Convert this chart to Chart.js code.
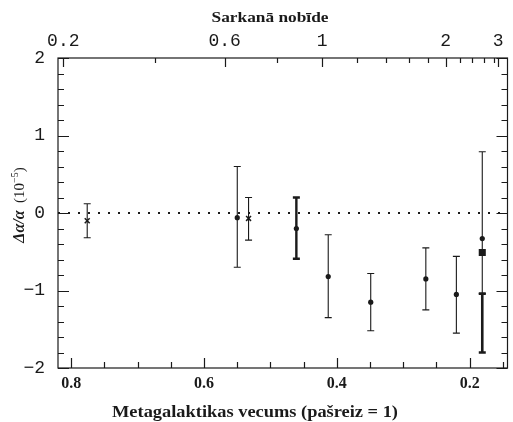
<!DOCTYPE html>
<html>
<head>
<meta charset="utf-8">
<script src="https://cdn.jsdelivr.net/npm/chart.js@4"></script>
<style>
  body { margin: 0; background: #fff; }
  canvas { display: block; }
</style>
</head>
<body>
<canvas id="chart" width="513" height="422"></canvas>
<script>
// Bottom axis: age of the universe (now = 1), reversed
const ageMin = 0.143;
const ageMax = 0.82;
const ageTicks = [0.8, 0.6, 0.4, 0.2];
const ageMinorStep = 0.05;

// Top axis: redshift ticks and where they fall on the age axis
const zTicks = [0.2, 0.4, 0.6, 0.8, 1, 1.2, 1.4, 1.6, 1.8, 2, 2.2, 2.4, 2.6, 2.8, 3];
const zTickAges = [0.812, 0.674, 0.569, 0.490, 0.422, 0.370, 0.326, 0.292, 0.262, 0.236, 0.215, 0.197, 0.179, 0.163, 0.157];
const zLabels = ["0.2", "0.6", "1", "2", "3"];

// Y axis
const yTicks = [-2, -1, 0, 1, 2];
const yMinorStep = 0.2;

// Dots with thin error bars
const dotAges = [0.550, 0.413, 0.349, 0.266, 0.220, 0.181];
const dotValues = [-0.06, -0.82, -1.15, -0.85, -1.05, -0.33];
const dotLow = [-0.70, -1.35, -1.52, -1.25, -1.55, -1.04];
const dotHigh = [0.60, -0.28, -0.78, -0.45, -0.56, 0.79];

// Dot with thick error bar
const thickAges = [0.461];
const thickValues = [-0.20];
const thickLow = [-0.59];
const thickHigh = [0.20];

// Crosses
const crossAges = [0.776, 0.533];
const crossValues = [-0.10, -0.07];
const crossLow = [-0.32, -0.35];
const crossHigh = [0.12, 0.20];

// Square
const squareAges = [0.181];
const squareValues = [-0.51];

// Thick lower segment at the highest redshift
const segAges = [0.181];
const segValues = [-1.04];
const segLow = [-1.80];
const segHigh = [-1.04];

const ink = "#1a1a1a";

function pts(xs, ys) {
  return xs.map((x, i) => ({ x: x, y: ys[i] }));
}

// wide serif look: draw text stretched to a given width
function wideText(ctx, text, cx, y, font, width) {
  ctx.font = font;
  const w = ctx.measureText(text).width;
  const sx = width / w;
  ctx.save();
  ctx.translate(cx, y);
  ctx.scale(sx, 1);
  ctx.textAlign = "center";
  ctx.fillText(text, 0, 0);
  ctx.restore();
}

// draws vertical error bars with caps
const errorBars = {
  id: "errorBars",
  beforeDatasetsDraw(chart) {
    const { ctx, scales } = chart;
    chart.data.datasets.forEach(ds => {
      if (!ds.errLow) return;
      ctx.save();
      ctx.strokeStyle = ink;
      ctx.lineWidth = ds.barWidth;
      ds.data.forEach((p, i) => {
        const px = scales.x.getPixelForValue(p.x);
        const top = scales.y.getPixelForValue(ds.errHigh[i]);
        const bot = scales.y.getPixelForValue(ds.errLow[i]);
        ctx.beginPath();
        ctx.moveTo(px, top); ctx.lineTo(px, bot);
        ctx.moveTo(px - 3.5, top); ctx.lineTo(px + 3.5, top);
        ctx.moveTo(px - 3.5, bot); ctx.lineTo(px + 3.5, bot);
        ctx.stroke();
      });
      ctx.restore();
    });
  }
};

// frame, inward ticks, axis titles
const frameTicks = {
  id: "frameTicks",
  afterDraw(chart) {
    const { ctx, chartArea: a, scales } = chart;
    ctx.save();
    ctx.strokeStyle = ink;
    ctx.lineWidth = 1.2;
    ctx.strokeRect(a.left, a.top, a.right - a.left, a.bottom - a.top);

    ctx.beginPath();
    // y ticks, both sides
    for (let v = -2; v <= 2.0001; v += yMinorStep) {
      const py = Math.round(scales.y.getPixelForValue(v)) + 0.5;
      const major = Math.abs(v - Math.round(v)) < 1e-6;
      const len = major ? 11 : 6;
      ctx.moveTo(a.left, py); ctx.lineTo(a.left + len, py);
      ctx.moveTo(a.right, py); ctx.lineTo(a.right - len, py);
    }
    // bottom ticks
    for (let v = 0.15; v <= ageMax; v += ageMinorStep) {
      const px = Math.round(scales.x.getPixelForValue(v)) + 0.5;
      const major = ageTicks.some(t => Math.abs(t - v) < 1e-6);
      ctx.moveTo(px, a.bottom); ctx.lineTo(px, a.bottom - (major ? 10 : 6));
    }
    // top ticks (redshift)
    zTicks.forEach((z, i) => {
      const px = Math.round(scales.x.getPixelForValue(zTickAges[i])) + 0.5;
      const major = zLabels.includes(String(z));
      ctx.moveTo(px, a.top); ctx.lineTo(px, a.top + (major ? 9 : 5));
    });
    ctx.stroke();

    // axis titles
    ctx.fillStyle = ink;
    ctx.textBaseline = "alphabetic";
    wideText(ctx, "Sarkanā nobīde", 270, 22, "bold 14px 'Liberation Serif'", 117);
    wideText(ctx, "Metagalaktikas vecums (pašreiz = 1)", 255, 417, "bold 16px 'Liberation Serif'", 286);

    // y title, rotated
    ctx.translate(24, 205);
    ctx.rotate(-Math.PI / 2);
    ctx.textAlign = "left";
    const f1 = "italic bold 16px 'Liberation Serif'";
    const f2 = "15px 'Liberation Serif'";
    const f3 = "10px 'Liberation Serif'";
    ctx.font = f1; const w1 = ctx.measureText("Δα/α").width;
    ctx.font = f2; const w2 = ctx.measureText("  (10").width;
    ctx.font = f3; const w3 = ctx.measureText("−5").width;
    ctx.font = f2; const w4 = ctx.measureText(")").width;
    let x0 = -(w1 + w2 + w3 + w4) / 2;
    ctx.font = f1; ctx.fillText("Δα/α", x0, 0); x0 += w1;
    ctx.font = f2; ctx.fillText("  (10", x0, 0); x0 += w2;
    ctx.font = f3; ctx.fillText("−5", x0, -6); x0 += w3;
    ctx.font = f2; ctx.fillText(")", x0, 0);
    ctx.restore();
  }
};

new Chart(document.getElementById("chart"), {
  type: "scatter",
  data: {
    datasets: [
      {
        type: "line",
        data: [{ x: ageMax, y: 0 }, { x: ageMin, y: 0 }],
        borderColor: ink,
        borderWidth: 2.2,
        borderDash: [2, 8],
        pointRadius: 0,
        fill: false
      },
      {
        data: pts(dotAges, dotValues),
        errLow: dotLow, errHigh: dotHigh, barWidth: 1.1,
        pointStyle: "circle", pointRadius: 2.6,
        backgroundColor: ink, borderColor: ink, borderWidth: 0
      },
      {
        data: pts(thickAges, thickValues),
        errLow: thickLow, errHigh: thickHigh, barWidth: 2.4,
        pointStyle: "circle", pointRadius: 2.6,
        backgroundColor: ink, borderColor: ink, borderWidth: 0
      },
      {
        data: pts(crossAges, crossValues),
        errLow: crossLow, errHigh: crossHigh, barWidth: 1.1,
        pointStyle: "crossRot", pointRadius: 3.5,
        borderColor: ink, borderWidth: 1.5
      },
      {
        data: pts(segAges, segValues),
        errLow: segLow, errHigh: segHigh, barWidth: 2.6,
        pointRadius: 0
      },
      {
        data: pts(squareAges, squareValues),
        pointStyle: "rect", pointRadius: 5,
        backgroundColor: ink, borderColor: ink, borderWidth: 0
      }
    ]
  },
  options: {
    responsive: false,
    animation: false,
    layout: { padding: { left: 0, right: 4, top: 0, bottom: 0 } },
    plugins: { legend: { display: false }, tooltip: { enabled: false } },
    scales: {
      x: {
        type: "linear", position: "bottom", reverse: true,
        min: ageMin, max: ageMax,
        grid: { display: false, drawTicks: false },
        border: { display: false },
        afterBuildTicks: s => { s.ticks = ageTicks.map(v => ({ value: v })); },
        afterFit: s => { s.height = 54; },
        ticks: {
          autoSkip: false, maxRotation: 0, padding: 6, color: ink,
          font: { family: "'Liberation Serif'", size: 16, weight: "bold" },
          callback: v => v.toFixed(1)
        }
      },
      x2: {
        type: "linear", position: "top", reverse: true,
        min: ageMin, max: ageMax,
        grid: { display: false, drawTicks: false },
        border: { display: false },
        afterBuildTicks: s => {
          s.ticks = zTicks.map((z, i) => ({ value: zTickAges[i], z: z }))
            .filter(t => zLabels.includes(String(t.z)));
        },
        afterFit: s => { s.height = 58; },
        ticks: {
          autoSkip: false, maxRotation: 0, padding: 6, color: ink,
          font: { family: "'Liberation Mono'", size: 18 },
          callback: (v, i) => zLabels[i]
        }
      },
      y: {
        min: -2, max: 2,
        grid: { display: false, drawTicks: false },
        border: { display: false },
        afterBuildTicks: s => { s.ticks = yTicks.map(v => ({ value: v })); },
        afterFit: s => { s.width = 58; },
        ticks: {
          padding: 13, color: ink,
          font: { family: "'Liberation Mono'", size: 18 },
          callback: v => (v < 0 ? "\u2212" + Math.abs(v) : String(v))
        }
      }
    }
  },
  plugins: [errorBars, frameTicks]
});
</script>
</body>
</html>
